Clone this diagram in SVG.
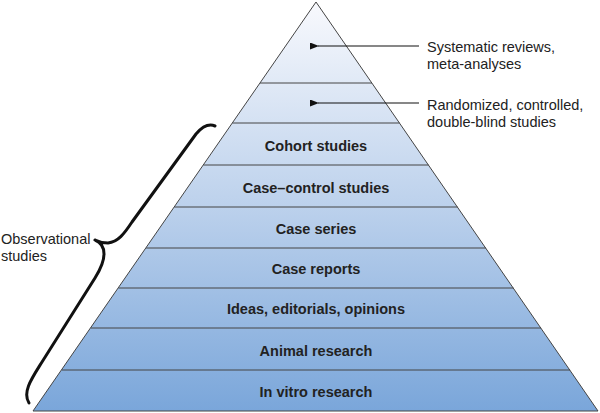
<svg xmlns="http://www.w3.org/2000/svg" width="600" height="413" viewBox="0 0 600 413">
<defs>
<linearGradient id="g" x1="0" y1="2" x2="0" y2="411" gradientUnits="userSpaceOnUse">
<stop offset="0" stop-color="#f8f9fd"/>
<stop offset="0.5" stop-color="#bcd1ec"/>
<stop offset="1" stop-color="#7aa6da"/>
</linearGradient>
<marker id="ah" viewBox="0 0 9 7" refX="1" refY="3.5" markerWidth="9" markerHeight="7" markerUnits="userSpaceOnUse" orient="auto-start-reverse">
<path d="M0,3.5 L9,0 L9,7 Z" fill="#111"/>
</marker>
<style>
.lvl{font-family:"Liberation Sans",Arial,sans-serif;font-weight:bold;font-size:14.5px;fill:#222;text-anchor:middle}
.lab{font-family:"Liberation Sans",Arial,sans-serif;font-size:14.5px;fill:#222}
.sep{stroke:#444;stroke-width:1}
</style>
</defs>
<rect width="600" height="413" fill="#fff"/>
<g id="pyramid">
<polygon points="316,2 598,411 33,411" fill="url(#g)" stroke="#444" stroke-width="1"/>
<line class="sep" x1="260.0" y1="83" x2="372.0" y2="83"/>
<line class="sep" x1="232.4" y1="123" x2="399.6" y2="123"/>
<line class="sep" x1="203.4" y1="165" x2="428.6" y2="165"/>
<line class="sep" x1="174.4" y1="207" x2="457.6" y2="207"/>
<line class="sep" x1="146.1" y1="248" x2="485.9" y2="248"/>
<line class="sep" x1="118.5" y1="288" x2="513.5" y2="288"/>
<line class="sep" x1="90.9" y1="328" x2="541.1" y2="328"/>
<line class="sep" x1="61.9" y1="370" x2="570.1" y2="370"/>
</g>
<g id="level-cohort"><text class="lvl" x="316" y="151">Cohort studies</text></g>
<g id="level-casecontrol"><text class="lvl" x="316" y="193">Case–control studies</text></g>
<g id="level-caseseries"><text class="lvl" x="316" y="234">Case series</text></g>
<g id="level-casereports"><text class="lvl" x="316" y="274">Case reports</text></g>
<g id="level-ideas"><text class="lvl" x="316" y="314">Ideas, editorials, opinions</text></g>
<g id="level-animal"><text class="lvl" x="316" y="356">Animal research</text></g>
<g id="level-invitro"><text class="lvl" x="316" y="397">In vitro research</text></g>
<g id="label-systematic"><text class="lab" x="427" y="52">Systematic reviews,</text><text class="lab" x="427" y="69">meta-analyses</text></g>
<g id="label-rct"><text class="lab" x="427" y="110">Randomized, controlled,</text><text class="lab" x="427" y="127">double-blind studies</text></g>
<g id="label-observational"><text class="lab" x="1" y="244">Observational</text><text class="lab" x="1" y="261">studies</text></g>
<g id="connectors">
<line x1="419" y1="46" x2="318" y2="46" stroke="#111" stroke-width="1.2" marker-end="url(#ah)"/>
<line x1="419" y1="103" x2="318" y2="103" stroke="#111" stroke-width="1.2" marker-end="url(#ah)"/>
<path d="M215,126 C208,123 202,127 196,134 L132,222 C124,234 118,242 108,243 C103,243 99,242 95,240 C100,242 104,246 104,254 C104,262 100,270 95,278 L42,362 C32,378 22,392 29,403" fill="none" stroke="#111" stroke-width="3" stroke-linecap="round" stroke-linejoin="round"/>
</g>
</svg>
